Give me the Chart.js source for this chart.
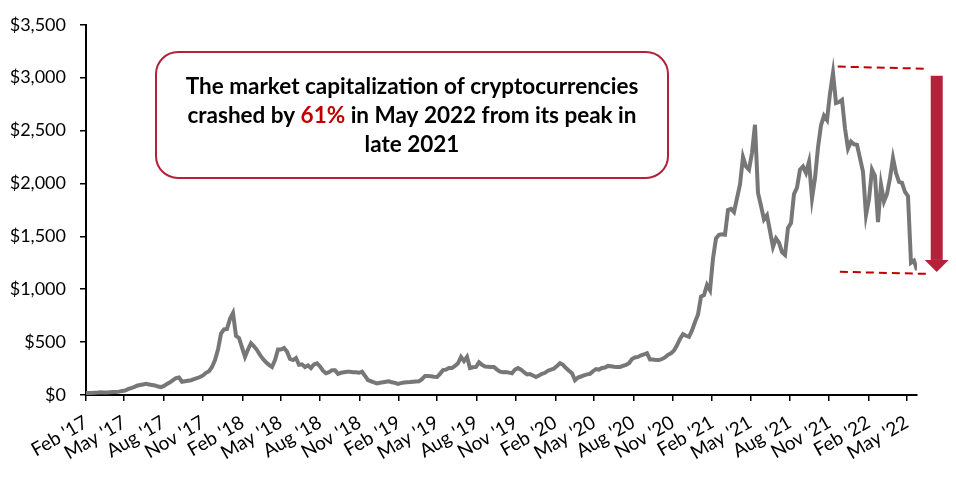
<!DOCTYPE html>
<html lang="en">
<head>
    <meta charset="UTF-8">
    <title>Cryptocurrency Market Capitalization</title>
    <script src="https://cdn.jsdelivr.net/npm/chart.js"></script>
    <style>
        body {
            margin: 0;
            background: #fff;
        }
        .chart-container {
            width: 956px;
            height: 480px;
        }
    </style>
</head>
<body>
    <div class="chart-container">
        <canvas id="capChart"></canvas>
    </div>
    <script>
        // weekly values, USD billion, first week starting 1 Feb 2017
        const startDate = Date.UTC(2017, 1, 1);
        const marketCap = [
            18, 19, 20, 22, 23, 25, 24, 24, 26, 28, 29, 32, 38,
            42, 55, 65, 75, 88, 95, 100, 105, 100, 95, 90, 80, 75,
            85, 105, 120, 140, 160, 165, 125, 130, 135, 140, 150, 160, 170,
            185, 210, 225, 265, 330, 430, 580, 620, 625, 720, 775, 560, 540,
            450, 360, 430, 490, 460, 425, 380, 340, 310, 285, 265, 330, 430,
            430, 445, 410, 340, 330, 350, 285, 290, 265, 280, 255, 290, 300,
            270, 230, 205, 215, 235, 235, 200, 210, 215, 220, 220, 215, 215,
            210, 220, 180, 140, 130, 120, 110, 115, 120, 125, 130, 120, 115,
            105, 112, 118, 120, 122, 125, 128, 130, 150, 180, 180, 178, 172,
            170, 200, 235, 240, 255, 255, 275, 300, 360, 320, 360, 255, 262,
            265, 310, 285, 270, 268, 265, 265, 240, 220, 215, 218, 212, 205,
            240, 255, 240, 215, 195, 198, 185, 170, 185, 200, 210, 230, 240,
            250, 275, 300, 285, 255, 230, 205, 140, 165, 175, 185, 195, 200,
            225, 245, 240, 255, 260, 275, 272, 268, 265, 265, 275, 285, 300,
            340, 355, 360, 375, 385, 395, 335, 335, 330, 330, 340, 355, 380,
            395, 420, 470, 530, 575, 560, 550, 610, 690, 760, 930, 945, 1040,
            990, 1290, 1480, 1515, 1520, 1515, 1750, 1760, 1730, 1860, 1990, 2250, 2160,
            2130, 2290, 2555, 1910, 1790, 1660, 1700, 1550, 1400, 1480, 1440, 1350, 1325,
            1580, 1625, 1900, 1960, 2130, 2160, 2100, 2205, 1860, 2050, 2340, 2550, 2640,
            2600, 2850, 3045, 2760, 2770, 2790, 2520, 2330, 2395, 2370, 2365, 2240, 2110,
            1700, 1850, 2130, 2070, 1635, 1990, 1830, 1900, 2050, 2240, 2100, 2015, 2005,
            1920, 1880, 1250, 1270, 1180
        ];
        const tickDates = [
            '2017-02-01', '2017-05-01', '2017-08-01', '2017-11-01',
            '2018-02-01', '2018-05-01', '2018-08-01', '2018-11-01',
            '2019-02-01', '2019-05-01', '2019-08-01', '2019-11-01',
            '2020-02-01', '2020-05-01', '2020-08-01', '2020-11-01',
            '2021-02-01', '2021-05-01', '2021-08-01', '2021-11-01',
            '2022-02-01', '2022-05-01'
        ];
        const tickLabels = [
            "Feb '17", "May '17", "Aug '17", "Nov '17",
            "Feb '18", "May '18", "Aug '18", "Nov '18",
            "Feb '19", "May '19", "Aug '19", "Nov '19",
            "Feb '20", "May '20", "Aug '20", "Nov '20",
            "Feb '21", "May '21", "Aug '21", "Nov '21",
            "Feb '22", "May '22"
        ];

        const DAY = 86400000;
        const toDay = s => (Date.parse(s + 'T00:00:00Z') - startDate) / DAY;
        const tickDays = tickDates.map(toDay);
        const points = marketCap.map((v, i) => ({ x: i * 7, y: v }));
        const lastDay = (marketCap.length - 1) * 7;

        const RED = '#C00000';
        const BOX_RED = '#B5213A';
        const FONT = 'Lato, "Open Sans", sans-serif';

        // callout box, dashed guides and the drop arrow
        const notePlugin = {
            id: 'note',
            afterDraw(chart) {
                const { ctx } = chart;
                const x = chart.scales.x;
                const y = chart.scales.y;
                ctx.save();

                // rounded text box
                ctx.strokeStyle = BOX_RED;
                ctx.lineWidth = 2;
                ctx.beginPath();
                ctx.roundRect(156, 52, 512, 126, 22);
                ctx.stroke();

                ctx.font = 'bold 22.5px ' + FONT;
                ctx.textBaseline = 'middle';
                ctx.textAlign = 'left';
                const cx = 412;
                const lines = [
                    [['The market capitalization of cryptocurrencies', '#000']],
                    [['crashed by ', '#000'], ['61%', RED], [' in May 2022 from its peak in', '#000']],
                    [['late 2021', '#000']]
                ];
                const lineY = [87, 116, 145];
                lines.forEach((parts, i) => {
                    const w = parts.reduce((s, p) => s + ctx.measureText(p[0]).width, 0);
                    let px = cx - w / 2;
                    parts.forEach(p => {
                        ctx.fillStyle = p[1];
                        ctx.fillText(p[0], px, lineY[i]);
                        px += ctx.measureText(p[0]).width;
                    });
                });

                // dashed guides at peak and trough
                ctx.strokeStyle = RED;
                ctx.lineWidth = 2;
                ctx.setLineDash([8, 5]);
                ctx.beginPath();
                ctx.moveTo(x.getPixelForValue(1754), y.getPixelForValue(3105));
                ctx.lineTo(x.getPixelForValue(1957), y.getPixelForValue(3085));
                ctx.moveTo(x.getPixelForValue(1759), y.getPixelForValue(1165));
                ctx.lineTo(x.getPixelForValue(1962), y.getPixelForValue(1145));
                ctx.stroke();
                ctx.setLineDash([]);

                // down arrow
                const ax = x.getPixelForValue(1985);
                const top = y.getPixelForValue(3018);
                const base = y.getPixelForValue(1277);
                const tip = y.getPixelForValue(1163);
                ctx.fillStyle = BOX_RED;
                ctx.fillRect(ax - 6, top, 12, base - top);
                ctx.beginPath();
                ctx.moveTo(ax - 12, base);
                ctx.lineTo(ax + 12, base);
                ctx.lineTo(ax, tip);
                ctx.closePath();
                ctx.fill();

                ctx.restore();
            }
        };

        const ctx = document.getElementById('capChart').getContext('2d');
        const chart = new Chart(ctx, {
            type: 'line',
            data: {
                datasets: [{
                    label: 'Market capitalization',
                    data: points,
                    borderColor: '#777777',
                    borderWidth: 4,
                    pointRadius: 0,
                    tension: 0,
                    fill: false
                }]
            },
            options: {
                responsive: true,
                maintainAspectRatio: false,
                animation: false,
                layout: {
                    padding: { top: 16, right: 39, left: 0, bottom: 0 }
                },
                scales: {
                    x: {
                        type: 'linear',
                        min: 0,
                        max: lastDay,
                        afterBuildTicks: scale => {
                            scale.ticks = tickDays.map(v => ({ value: v }));
                        },
                        afterFit: scale => {
                            scale.height = 85;
                        },
                        grid: {
                            drawOnChartArea: false,
                            drawTicks: true,
                            tickLength: 6,
                            color: '#000',
                            lineWidth: 1.5
                        },
                        border: { color: '#000', width: 2 },
                        ticks: {
                            autoSkip: false,
                            minRotation: 30,
                            maxRotation: 30,
                            padding: 10,
                            color: '#000',
                            font: { family: FONT, size: 19 },
                            callback: (value, index) => tickLabels[index]
                        }
                    },
                    y: {
                        min: 0,
                        max: 3500,
                        afterFit: scale => {
                            scale.width = 86;
                        },
                        grid: {
                            drawOnChartArea: false,
                            drawTicks: true,
                            tickLength: 6,
                            color: '#000',
                            lineWidth: 1.5
                        },
                        border: { color: '#000', width: 2 },
                        ticks: {
                            stepSize: 500,
                            padding: 14,
                            color: '#000',
                            font: { family: FONT, size: 18 },
                            callback: value => '$' + value.toLocaleString('en-US')
                        }
                    }
                },
                plugins: {
                    legend: { display: false },
                    tooltip: { enabled: false }
                }
            },
            plugins: [notePlugin]
        });
    </script>
</body>
</html>
